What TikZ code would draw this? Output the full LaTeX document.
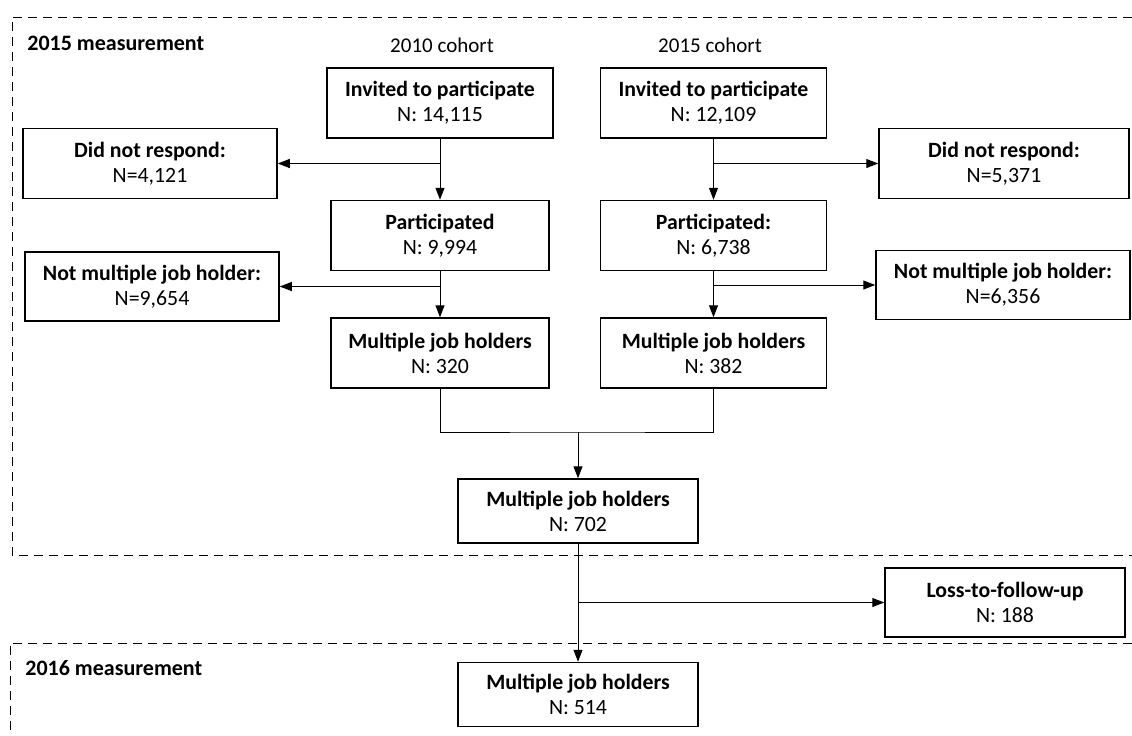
\documentclass[tikz,border=0pt]{standalone}
\usepackage{fontspec}
\setmainfont{Carlito}
\usetikzlibrary{positioning, arrows.meta}

\begin{document}
\begin{tikzpicture}[
    x=0.5pt, y=-0.5pt,
    box/.style={rectangle, draw, line width=0.75pt, minimum width=113pt, minimum height=35pt,
                align=center, font=\fontsize{10.9}{12.5}\selectfont, inner sep=2pt},
    side/.style={box, minimum width=127pt},
    final/.style={box, minimum width=120pt, minimum height=32pt},
    label/.style={font=\fontsize{10.5}{12}\selectfont, inner sep=0pt},
    head/.style={label, font=\fontsize{11}{13}\selectfont\bfseries, anchor=west},
    frame/.style={dashed, dash pattern=on 4.5pt off 3pt, line width=0.5pt},
    line/.style={line width=0.5pt},
    arr/.style={-{Triangle[length=6pt, width=4.5pt]}, line width=0.5pt},
]
\useasboundingbox (0,0) rectangle (1132,735);

% Measurement frames
\draw[frame] (1132,17) -- (12,17) -- (12,555) -- (1132,555);
\draw[frame] (1132,643) -- (10,643) -- (10,735);
\node[head] (m2015) at (27,43) {2015 measurement};
\node[head] (m2016) at (25,668) {2016 measurement};

% Cohort columns
\node[box] (inv1) at (440,103) {\textbf{Invited to participate}\\N: 14,115};
\node[box, below=30.5pt of inv1, minimum width=109pt] (part1) {\textbf{Participated}\\N: 9,994};
\node[box, below=23pt of part1, minimum width=109pt] (mjh1) {\textbf{Multiple job holders}\\N: 320};

\node[box, right=23pt of inv1] (inv2) {\textbf{Invited to participate}\\N: 12,109};
\node[box, below=30.5pt of inv2] (part2) {\textbf{Participated:}\\N: 6,738};
\node[box, below=23pt of part2] (mjh2) {\textbf{Multiple job holders}\\N: 382};

\node[label] (c2010) at (442,45) {2010 cohort};
\node[label] (c2015) at (710,45) {2015 cohort};

% Excluded
\node[side] (dnr1) at (150,163.5) {\textbf{Did not respond:}\\N=4,121};
\node[side, minimum width=125pt] (dnr2) at (1004,163.5) {\textbf{Did not respond:}\\N=5,371};
\node[side, minimum height=34.5pt] (nm1) at (152,286.5) {\textbf{Not multiple job holder:}\\N=9,654};
\node[side, minimum height=34.5pt] (nm2) at (1003,285) {\textbf{Not multiple job holder:}\\N=6,356};

% Pooled and follow-up
\coordinate (join) at (578,432);
\node[final] (mjh702) at (578,511) {\textbf{Multiple job holders}\\N: 702};
\node[final, below=59pt of mjh702] (mjh514) {\textbf{Multiple job holders}\\N: 514};
\node[final, minimum height=34.5pt] (loss) at (1005,602.5) {\textbf{Loss-to-follow-up}\\N: 188};

% Flow
\draw[arr] (inv1) -- (part1);
\draw[arr] (part1) -- (mjh1);
\draw[arr] (inv2) -- (part2);
\draw[arr] (part2) -- (mjh2);
\draw[arr] (inv1.south |- dnr1.east) -- (dnr1.east);
\draw[arr] (inv2.south |- dnr2.west) -- (dnr2.west);
\draw[arr] (part1.south |- nm1.east) -- (nm1.east);
\draw[arr] (part2.south |- nm2.west) -- (nm2.west);
\draw[line] (mjh1.south) |- (join) -| (mjh2.south);
\draw[arr] (join) -- (mjh702);
\draw[arr] (mjh702) -- (mjh514);
\draw[arr] (mjh702.south |- loss.west) -- (loss.west);

\end{tikzpicture}
\end{document}
